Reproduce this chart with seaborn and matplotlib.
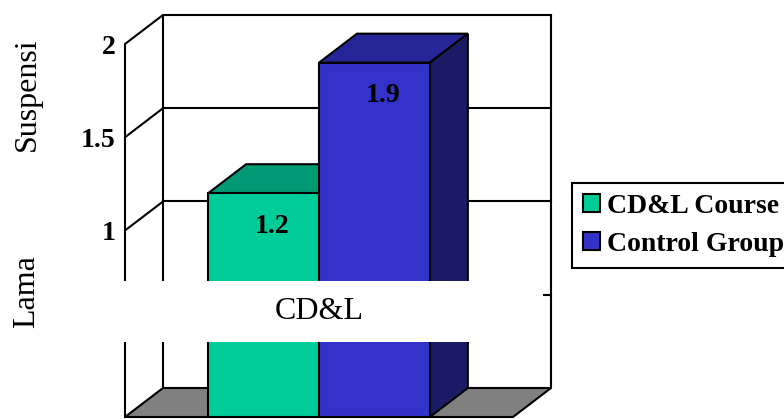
import matplotlib
matplotlib.use("Agg")
import matplotlib.pyplot as plt
import pandas as pd
import seaborn as sns
from matplotlib.patches import Polygon, Rectangle, Patch

# ---- data -------------------------------------------------------------
kategori = ["CD&L"]
seri = ["CD&L Course", "Control Group"]
nilai = [1.2, 1.9]
y_ticks = [0, 0.5, 1, 1.5, 2]
y_ticklabels = ["", "0.5", "1", "1.5", "2"]
judul_y = ["Lama", "Suspensi"]

# ---- style ------------------------------------------------------------
warna_depan = ["#00CC99", "#3333CC"]
warna_atas = ["#009973", "#262699"]
warna_sisi = ["#006B50", "#1C1C66"]

sns.set_style("white")
plt.rcParams["font.family"] = ["Liberation Serif", "DejaVu Serif"]
plt.rcParams["text.color"] = "black"
plt.rcParams["axes.labelcolor"] = "black"
plt.rcParams["ytick.color"] = "black"
plt.rcParams["xtick.color"] = "black"

W, H = 784, 419
fig = plt.figure(figsize=(W / 100, H / 100), dpi=100)

# front plane of the chart box (pixel edges)
L, R, B, T = 125, 513, 417, 44
ax = fig.add_axes([L / W, (H - B) / H, (R - L) / W, (B - T) / H])

df = pd.DataFrame({"kelompok": kategori * len(seri), "seri": seri, "nilai": nilai})
sns.barplot(data=df, x="kelompok", y="nilai", hue="seri", hue_order=seri,
            palette=dict(zip(seri, warna_depan)), width=0.8, saturation=1,
            edgecolor="black", linewidth=1.5, errorbar=None, legend=False, ax=ax)

X0, X1 = -0.7, 0.7
ax.set_xlim(X0, X1)
ax.set_ylim(0, 2)

# 3-D depth offset in data units
DX = 38 * (X1 - X0) / (R - L)
DY = 29 * 2 / (B - T)

lw = 1.5
# floor
ax.add_patch(Polygon([(X0, 0), (X0 + DX, DY), (X1 + DX, DY), (X1, 0)],
                     closed=True, facecolor="#808080", edgecolor="black",
                     lw=lw, zorder=0.7, clip_on=False))
# back wall gridlines and side-wall diagonals
for v in y_ticks[1:]:
    ax.plot([X0 + DX, X1 + DX], [v + DY, v + DY], color="black", lw=lw,
            zorder=0.6, clip_on=False, solid_capstyle="projecting")
    ax.plot([X0, X0 + DX], [v, v + DY], color="black", lw=lw,
            zorder=0.6, clip_on=False)
for xb in (X0 + DX, X1 + DX):
    ax.plot([xb, xb], [DY, 2 + DY], color="black", lw=lw, zorder=0.6, clip_on=False)

# bar tops and sides
for i, cont in enumerate(ax.containers):
    for bar in cont:
        x, w, h = bar.get_x(), bar.get_width(), bar.get_height()
        bar.set_zorder(2 + 2 * i)
        ax.add_patch(Polygon([(x, h), (x + w, h), (x + w + DX, h + DY), (x + DX, h + DY)],
                             closed=True, facecolor=warna_atas[i], edgecolor="black",
                             lw=lw, zorder=1.9 + 2 * i, clip_on=False))
        ax.add_patch(Polygon([(x + w, 0), (x + w, h), (x + w + DX, h + DY), (x + w + DX, DY)],
                             closed=True, facecolor=warna_sisi[i], edgecolor="black",
                             lw=lw, zorder=1.9 + 2 * i, clip_on=False))
        ax.annotate(f"{h:.1f}", (x + w / 2, h), xytext=(6, -24),
                    textcoords="offset points", ha="center", va="center",
                    fontsize=20, fontweight="bold", color="black", zorder=3 + 2 * i)

# axes decoration
for s in ("top", "right", "bottom"):
    ax.spines[s].set_visible(False)
ax.spines["left"].set_linewidth(lw)
ax.spines["left"].set_color("black")
ax.set_yticks(y_ticks, y_ticklabels, fontweight="bold", fontsize=20, color="black")
ax.tick_params(axis="y", direction="out", length=5, width=lw, pad=2, colors="black")
ax.set_xticks([])
ax.set_xlabel("")
ax.set_ylabel("")
ax.patch.set_alpha(0)

# category label band
ax.add_patch(Rectangle((-0.88, 0.402), 0.808 + 0.88, 0.729 - 0.402,
                       facecolor="white", edgecolor="none", zorder=10, clip_on=False))
ax.text(0, 0.568, kategori[0], ha="center", va="center", fontsize=23,
        color="black", zorder=11, clip_on=False)

# value axis title
fig.text(27 / W, 1 - 292 / H, judul_y[0], rotation=90, ha="center", va="center",
         fontsize=23, color="black")
fig.text(27 / W, 1 - 94 / H, judul_y[1], rotation=90, ha="center", va="center",
         fontsize=23, color="black")

# legend
handles = [Patch(facecolor=c, edgecolor="black", lw=lw) for c in warna_depan]
leg = fig.legend(handles, seri, loc="upper left", bbox_to_anchor=(572 / W, 1 - 183 / H),
                 prop=dict(family="Liberation Serif", weight="bold", size=20),
                 frameon=True, fancybox=False, edgecolor="black", framealpha=1,
                 handlelength=0.62, handleheight=0.62, handletextpad=0.25,
                 borderpad=0.4, labelspacing=0.45, borderaxespad=0)
leg.get_frame().set_linewidth(lw)
for t in leg.get_texts():
    t.set_color("black")

fig.savefig("out.png", dpi=100)
